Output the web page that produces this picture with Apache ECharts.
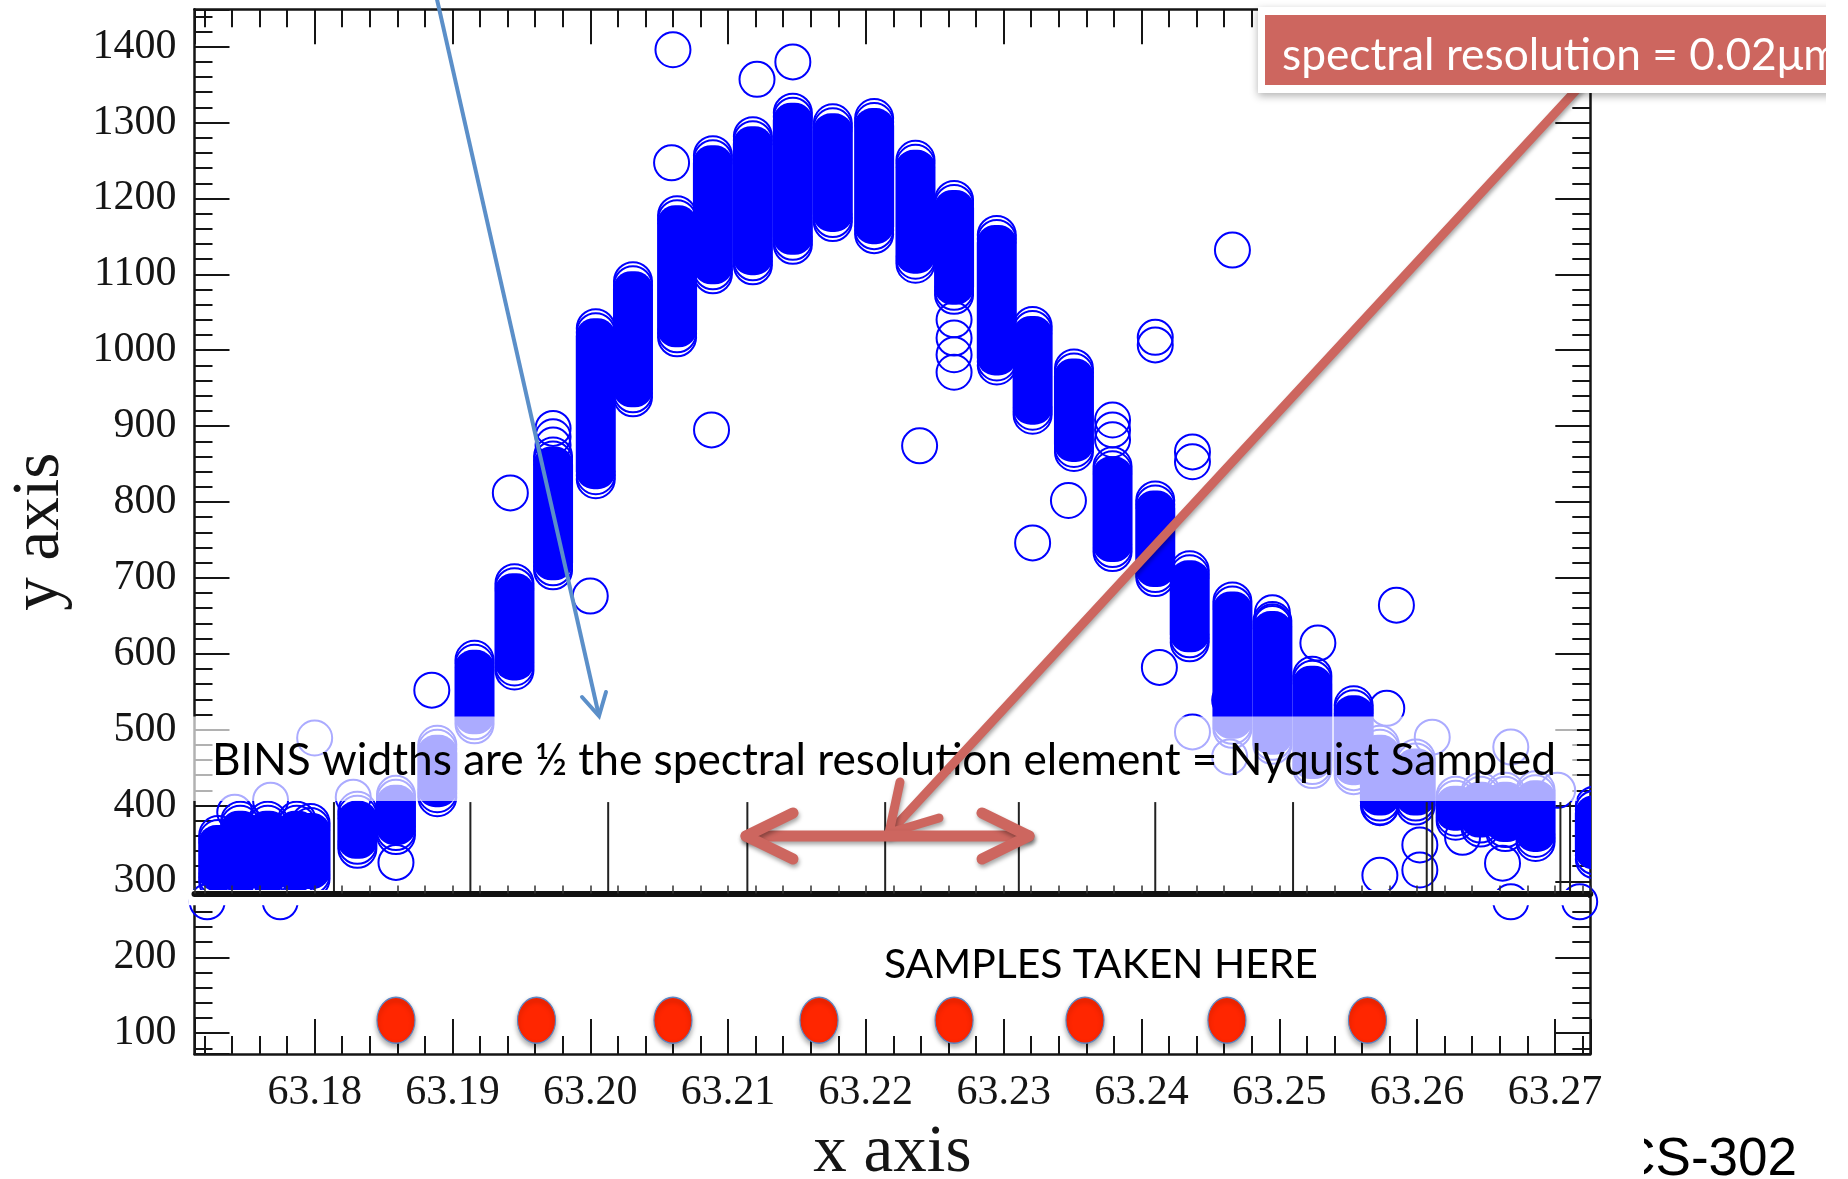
<!DOCTYPE html>
<html>
<head>
<meta charset="utf-8">
<title>Nyquist sampling</title>
<script src="https://cdn.jsdelivr.net/npm/echarts/dist/echarts.min.js"></script>
<style>
html, body { margin: 0; padding: 0; background: #fff; }
#chart { width: 1848px; height: 1179px; }
</style>
</head>
<body>
<div id="chart"></div>
<script>
// stacked circle columns: x, lowest and highest circle centre
var colX = [63.1730, 63.1746, 63.1766, 63.1787, 63.1797, 63.1831, 63.1859, 63.1889, 63.1916, 63.1945,
            63.1973, 63.2004, 63.2031, 63.2063, 63.2089, 63.2118, 63.2147, 63.2176, 63.2206, 63.2236,
            63.2264, 63.2295, 63.2321, 63.2351, 63.2379, 63.2410, 63.2435, 63.2466, 63.2495, 63.2524,
            63.2554, 63.2573, 63.2599, 63.2628, 63.2646, 63.2664, 63.2686, 63.2729];
var colLow = [300, 298, 298, 300, 303, 343, 361, 411, 507, 578,
              710, 830, 938, 1017, 1100, 1112, 1139, 1169, 1153, 1114,
              1073, 980, 915, 866, 734, 701, 615, 501, 480, 448,
              440, 400, 400, 380, 371, 365, 352, 329];
var colHigh = [361, 380, 380, 380, 377, 393, 414, 480, 592, 693,
               860, 1029, 1091, 1178, 1257, 1282, 1313, 1299, 1306, 1251,
               1198, 1152, 1032, 976, 847, 802, 710, 669, 643, 571,
               532, 480, 462, 413, 418, 418, 420, 400];

// single circles
var ringX = [63.2060, 63.2121, 63.2147, 63.2059, 63.2088, 63.2239, 63.2347, 63.1942, 63.2000, 63.1885,
             63.1800, 63.1768, 63.1828, 63.1859, 63.2466, 63.2410, 63.2410, 63.2437, 63.2437, 63.2321,
             63.2379, 63.2379, 63.2379, 63.2413, 63.2585, 63.2528, 63.2495, 63.2495, 63.2578, 63.2464,
             63.2437, 63.2464, 63.2611, 63.2668, 63.2702, 63.2573, 63.2573, 63.2602, 63.2602, 63.2633,
             63.2662, 63.2668, 63.2718, 63.1722, 63.1775, 63.1742, 63.1973, 63.1973, 63.1973, 63.2264,
             63.2264, 63.2264, 63.2264];
var ringY = [1396, 1357, 1380, 1247, 895, 874, 802, 812, 676, 552,
             489, 407, 411, 325, 1132, 1017, 1007, 866, 853, 746,
             908, 895, 882, 582, 664, 614, 654, 642, 528, 539,
             497, 464, 490, 477, 420, 397, 308, 348, 315, 358,
             324, 273, 273, 273, 273, 391, 897, 886, 875, 1040,
             1016, 994, 971];

// samples (red dots)
var sampleX = [63.1859, 63.1961, 63.2060, 63.2166, 63.2264, 63.2359, 63.2462, 63.2564];
var sampleY = [117, 117, 117, 117, 117, 117, 117, 117];

// bin edges
var binEdges = [63.1814, 63.1913, 63.2013, 63.2114, 63.2214, 63.2311, 63.2410, 63.2510, 63.2607, 63.2611, 63.2704, 63.2711];

var X_MIN = 63.17128, X_MAX = 63.27257;
var Y_MIN = 72.5, Y_MAX = 1449.3;

// annotation geometry in data units
var BIN_TOP = 404.5, BIN_BASE = 284;
var COVER_TOP = 288.5, COVER_BOTTOM = 268.7;
var BAND = [63.1711, 63.2716, 406, 517.4];

var BLUE = '#0000ff';
var RED = '#cd665f';
var INK = '#151515';
var SERIF = 'Liberation Serif';
var SANS = 'Lato';
var R = 18;      // ring radius
var HALF_W = 20; // half width of a column of rings

var chart = echarts.init(document.getElementById('chart'));

function isStep(v, step) {
    return Math.abs(v / step - Math.round(v / step)) < 1e-6;
}

function renderColumn(params, api) {
    var top = api.coord([api.value(0), api.value(2)]);
    var bot = api.coord([api.value(0), api.value(1)]);
    var cx = top[0];
    var y0 = top[1] - R + 8, y1 = bot[1] + R - 8;
    var kids = [{
        type: 'rect',
        shape: { x: cx - HALF_W, y: y0, width: 2 * HALF_W, height: Math.max(y1 - y0, 2 * R - 16), r: HALF_W - 2 },
        style: { fill: BLUE }
    }];
    [top[1], top[1] + 4, bot[1], bot[1] - 4].forEach(function (cy) {
        kids.push({ type: 'circle', shape: { cx: cx, cy: cy, r: R + 1 }, style: { fill: 'none', stroke: BLUE, lineWidth: 2 } });
    });
    return { type: 'group', children: kids };
}

var columnData = colX.map(function (x, i) { return [x, colLow[i], colHigh[i]]; });
var ringData = ringX.map(function (x, i) { return [x, ringY[i]]; });
var sampleData = sampleX.map(function (x, i) { return [x, sampleY[i]]; });

// text fitting
var ctx = document.createElement('canvas').getContext('2d');
function fit(text, family, width) {
    ctx.font = '100px ' + family;
    return 100 * width / ctx.measureText(text).width;
}
function midToBase(size, family) {
    ctx.font = size + 'px ' + family;
    ctx.textBaseline = 'alphabetic';
    var cap = ctx.measureText('H').actualBoundingBoxAscent;
    ctx.textBaseline = 'middle';
    var fromMid = ctx.measureText('H').actualBoundingBoxAscent;
    ctx.textBaseline = 'alphabetic';
    return cap - fromMid;
}
function textAt(str, family, size, x, baseline, color, align, z) {
    return {
        type: 'text', x: x, y: baseline - midToBase(size, family), z: z, silent: true,
        style: { text: str, fontFamily: family, fontSize: size, fill: color, align: align || 'left', verticalAlign: 'middle' }
    };
}

var binsText = 'BINS widths are \u00bd the spectral resolution element = Nyquist Sampled';
var binsSize = fit(binsText, SANS, 1344);
var samplesSize = fit('SAMPLES TAKEN HERE', SANS, 434);
var resSize = fit('spectral resolution = 0.02', SANS, 495);

var redLine = { stroke: RED, lineCap: 'round', lineJoin: 'round', fill: 'none',
    shadowBlur: 4, shadowOffsetX: 1, shadowOffsetY: 3, shadowColor: 'rgba(0,0,0,0.35)' };

var graphics = [
    // blue arrow
    { type: 'polyline', z: 30, silent: true, shape: { points: [[436, -5], [599, 716]] },
      style: { stroke: '#5b8fc9', lineWidth: 4, fill: 'none' } },
    { type: 'polyline', z: 30, silent: true, shape: { points: [[582, 697], [599, 716], [606, 692]] },
      style: { stroke: '#5b8fc9', lineWidth: 4, fill: 'none', lineCap: 'round' } },
    // texts
    textAt(binsText, SANS, binsSize, 212, 775, '#000', 'left', 20),
    textAt('SAMPLES TAKEN HERE', SANS, samplesSize, 884, 978, '#000', 'left', 20),
    // red diagonal arrow
    { type: 'polyline', z: 31, silent: true, shape: { points: [[1580, 86], [889, 833]] },
      style: Object.assign({ lineWidth: 9 }, redLine) },
    { type: 'polyline', z: 31, silent: true, shape: { points: [[900, 782], [889, 833], [939, 818]] },
      style: Object.assign({ lineWidth: 9 }, redLine) },
    // double arrow
    { type: 'polyline', z: 31, silent: true, shape: { points: [[746, 836], [1029, 836]] },
      style: Object.assign({ lineWidth: 11 }, redLine) },
    { type: 'polyline', z: 31, silent: true, shape: { points: [[793, 813], [746, 836], [793, 859]] },
      style: Object.assign({ lineWidth: 11 }, redLine) },
    { type: 'polyline', z: 31, silent: true, shape: { points: [[982, 813], [1029, 836], [982, 859]] },
      style: Object.assign({ lineWidth: 11 }, redLine) },
    // resolution box
    { type: 'rect', z: 40, silent: true, shape: { x: 1258, y: 7, width: 600, height: 86 },
      style: { fill: '#fff', shadowBlur: 8, shadowOffsetY: 3, shadowColor: 'rgba(0,0,0,0.3)' } },
    { type: 'rect', z: 41, silent: true, shape: { x: 1265, y: 15, width: 561, height: 70 }, style: { fill: RED } },
    textAt('spectral resolution = 0.02\u03bcm', SANS, resSize, 1282, 70, '#fff', 'left', 42),
    { type: 'rect', z: 43, silent: true, shape: { x: 1826, y: 0, width: 30, height: 110 }, style: { fill: '#fff' } },
    // slide footer
    textAt('CS-302', 'Liberation Sans', 53, 1797, 1175, '#000', 'right', 20),
    { type: 'rect', z: 21, silent: true, shape: { x: 1600, y: 1110, width: 44, height: 70 }, style: { fill: '#fff' } }
];

function axisBase(extra) {
    return Object.assign({
        type: 'value',
        splitLine: { show: false },
        axisLine: { show: false, onZero: false },
        axisTick: { show: false },
        axisLabel: { show: false },
        axisPointer: { show: false }
    }, extra);
}
function majorTick() { return { show: true, inside: true, length: 35, lineStyle: { color: INK, width: 2 } }; }
function minorTick() { return { show: true, inside: true, length: 18, lineStyle: { color: INK, width: 2 } }; }
function frameLine() { return { show: true, onZero: false, lineStyle: { color: INK, width: 2.5 } }; }

var option = {
    animation: false,
    backgroundColor: '#fff',
    grid: { left: 194.5, right: 257.7, top: 9.3, bottom: 125, containLabel: false, outerBoundsMode: 'none' },
    xAxis: [
        axisBase({ min: X_MIN, max: X_MAX, position: 'bottom', minInterval: 0.01, maxInterval: 0.01, splitNumber: 10,
            axisLine: frameLine(), axisTick: majorTick(),
            axisLabel: { show: true, margin: 18, color: INK, fontFamily: SERIF, fontSize: 42,
                formatter: function (v) { return isStep(v, 0.01) ? v.toFixed(2) : ''; } },
            name: 'x axis', nameLocation: 'middle', nameGap: 66,
            nameTextStyle: { fontFamily: SERIF, fontSize: 67, color: INK } }),
        axisBase({ min: X_MIN, max: X_MAX, position: 'bottom', minInterval: 0.002, maxInterval: 0.002, splitNumber: 50,
            axisTick: minorTick() }),
        axisBase({ min: X_MIN, max: X_MAX, position: 'top', minInterval: 0.01, maxInterval: 0.01, splitNumber: 10,
            axisLine: frameLine(), axisTick: majorTick() }),
        axisBase({ min: X_MIN, max: X_MAX, position: 'top', minInterval: 0.002, maxInterval: 0.002, splitNumber: 50,
            axisTick: minorTick() }),
        // base line of the pasted bin picture
        axisBase({ min: X_MIN, max: X_MAX, position: 'bottom', offset: -160.5, z: 4,
            minInterval: 0.002, maxInterval: 0.002, splitNumber: 50,
            axisLine: { show: true, onZero: false, lineStyle: { color: '#111', width: 6 } },
            axisTick: { show: true, inside: true, length: 8, lineStyle: { color: '#333', width: 1.5 } } })
    ],
    yAxis: [
        axisBase({ min: Y_MIN, max: Y_MAX, position: 'left', minInterval: 100, maxInterval: 100, splitNumber: 14,
            axisLine: frameLine(), axisTick: majorTick(),
            axisLabel: { show: true, margin: 18, color: INK, fontFamily: SERIF, fontSize: 42,
                formatter: function (v) { return isStep(v, 100) ? String(Math.round(v)) : ''; } },
            name: 'y axis', nameLocation: 'middle', nameGap: 121, nameRotate: 90,
            nameTextStyle: { fontFamily: SERIF, fontSize: 67, color: INK } }),
        axisBase({ min: Y_MIN, max: Y_MAX, position: 'left', minInterval: 20, maxInterval: 20, splitNumber: 69,
            axisTick: minorTick() }),
        axisBase({ min: Y_MIN, max: Y_MAX, position: 'right', minInterval: 100, maxInterval: 100, splitNumber: 14,
            axisLine: frameLine(), axisTick: majorTick() }),
        axisBase({ min: Y_MIN, max: Y_MAX, position: 'right', minInterval: 20, maxInterval: 20, splitNumber: 69,
            axisTick: minorTick() })
    ],
    series: [
        { name: 'columns', type: 'custom', z: 2, clip: true, silent: true,
          data: columnData, renderItem: renderColumn, encode: { x: 0, y: [1, 2] } },
        { name: 'rings', type: 'scatter', z: 2, silent: true, symbol: 'circle', symbolSize: 35,
          itemStyle: { color: 'rgba(0,0,0,0)', borderColor: BLUE, borderWidth: 2, opacity: 1 },
          data: ringData },
        { name: 'cover', type: 'custom', z: 3, silent: true, clip: false,
          data: [[X_MIN, COVER_TOP, COVER_BOTTOM]],
          renderItem: function (params, api) {
              var a = api.coord([api.value(0), api.value(1)]);
              var b = api.coord([api.value(0), api.value(2)]);
              return { type: 'rect', shape: { x: a[0] - 6, y: a[1], width: params.coordSys.width + 4, height: b[1] - a[1] },
                       style: { fill: '#fff' } };
          } },
        { name: 'bins', type: 'custom', z: 4, silent: true, clip: false,
          data: binEdges.map(function (x) { return [x, BIN_BASE]; }),
          renderItem: function (params, api) {
              var a = api.coord([api.value(0), BIN_TOP]);
              var b = api.coord([api.value(0), api.value(1)]);
              return { type: 'line', shape: { x1: a[0], y1: a[1], x2: b[0], y2: b[1] },
                       style: { stroke: '#222', lineWidth: 2 } };
          } },
        { name: 'band', type: 'custom', z: 5, silent: true, clip: false,
          data: [BAND],
          renderItem: function (params, api) {
              var a = api.coord([api.value(0), api.value(3)]);
              var b = api.coord([api.value(1), api.value(2)]);
              return { type: 'rect', shape: { x: a[0], y: a[1], width: b[0] - a[0], height: b[1] - a[1] },
                       style: { fill: 'rgba(255,255,255,0.67)' } };
          } },
        { name: 'samples', type: 'scatter', z: 6, silent: true, symbol: 'circle', symbolSize: [38, 46],
          itemStyle: { color: '#ff2600', borderColor: '#5b87c5', borderWidth: 1.2, opacity: 1,
                       shadowBlur: 5, shadowOffsetY: 3, shadowColor: 'rgba(0,0,0,0.35)' },
          data: sampleData }
    ],
    graphic: { elements: graphics }
};

chart.setOption(option);
</script>
</body>
</html>
